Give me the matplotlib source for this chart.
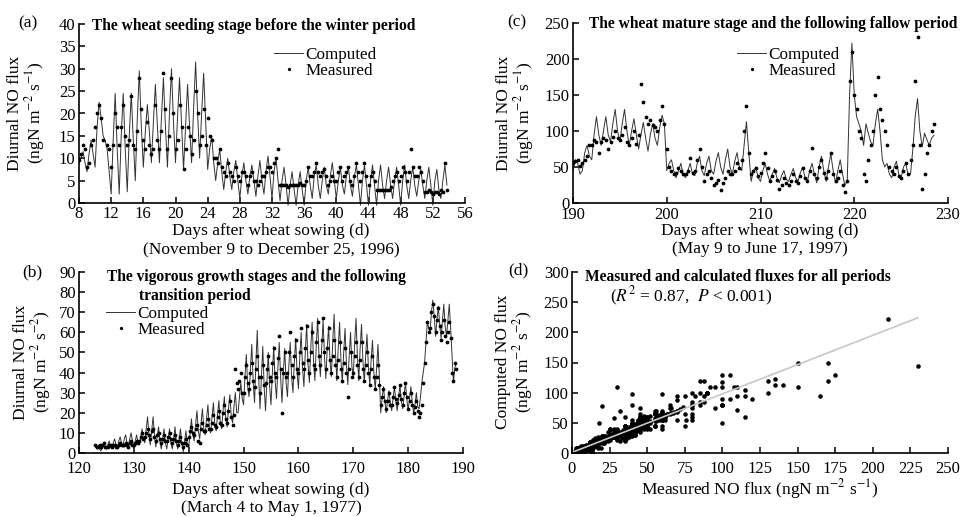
import numpy as np
import matplotlib
matplotlib.use('Agg')
import matplotlib.pyplot as plt

plt.rcParams['font.family'] = ['Liberation Serif', 'DejaVu Serif']
plt.rcParams['mathtext.fontset'] = 'stix'

W, H = 964, 517

# diurnal NO flux, one value every 6 h (rows = one day)
# (a) days 8-53, wheat seeding stage
start_a = 8.0
comp_a = [
    9, 10, 11.5, 9,       7, 11, 14, 11,        8, 17, 22.5, 19,      15, 14, 12, 7,
    2, 14, 24.5, 12,      2, 15, 24.5, 12,      2.5, 15, 24.5, 14,    5, 19, 29.5, 17,
    8, 16, 22, 16,        9, 18, 26.5, 17,      9, 19, 28, 17,        8, 20, 30, 18,
    9, 19, 28, 18,        7.5, 17, 26.5, 17,    9, 21, 31.5, 20,      10, 20, 29, 18,
    7.5, 12, 15, 9,       5, 9, 12, 7,          3, 7, 10, 6,          3, 7, 9.5, 5,
    1, 6, 9, 5,           2, 6, 8.5, 5,         1.5, 6, 9.5, 5,       2, 7, 10.5, 6,
    1, 7, 10, 5,          0.5, 5, 8, 4,         -0.5, 4, 7, 3,        -0.5, 4, 7, 3,
    -0.5, 5, 8, 4,        1, 6, 8.5, 4,         1, 5, 8, 4,           2, 6, 9, 5,
    1, 5, 8, 4,           2, 6, 8, 4,           1.5, 6, 8.5, 4,       -0.5, 5, 8.5, 4,
    -0.5, 5, 8.5, 4,      -0.5, 5, 8.5, 4,      1, 5, 8, 4,           1, 5, 8, 4,
    -0.5, 5, 8.5, 4,      1, 5, 8, 4,           1.5, 5, 7.5, 4,       1, 5, 8, 4,
    -0.5, 5, 7.5, 3,      1, 5, 8.5, 4,
]
meas_a = [
    9.5, 11, 13, 12,      8, 9, 13, 14,         17, 20, 22, 19,       14, np.nan, 13, 12,
    8, 13, 20, 17,        13, 17, 22, 15,       13, 14, 24, 13,       12, 16, 28, 21,
    14, 12, 18, 13,       11, 12, 22, 14,       12, 16, 29, 21,       12, 15, 28, 20,
    12, 14, 22, 17,       7.5, 12, 17, 15,      11, 14, 25, 20,       13, 15, 21, 13,
    19, 15, 14, 10,       10, 9, 12, 8,         7, 6, 9, 7,           6, 5, 8, 6,
    5, 7, 7, 6,           4, 6, 7, 5,           5, 4, 5, 6,           6, 7, 8, 8,
    7, 9, 10, 12,         4, 4, 4, 4,           3.5, 4, 4, 4,         4, 4, 4.5, 4,
    4, 5, 8, 6,           6, 7, 9, 7,           6, 7, 7.5, 6,         4, 5, 6, 5,
    5, 7, 8, 5,           6, 7, 8, 5,           4, 6, 9, 7,           5, 7, 9, 6,
    4, 6, 7, 5,           3, 3, 3, 3,           3, 3, 3, 3.5,         5, 6, 7, 5,
    6, 8, 7, 5,           7, 12, 8, 6,          6, 8, 7, 5,           2.5, 2.5, 3, 2.5,
    2, 2.5, 2.5, 2,       3, 2.5, 9, 3,
]

# (b) days 123-188, vigorous growth stages
start_b = 123.0
comp_b = [
    3, 2, 4, 2,           1, 3, 5, 3,           2, 4, 6, 3,           2, 5, 7, 4,
    3, 6, 8, 5,           3, 7, 9, 5,           4, 7, 10, 6,          3, 6, 9, 5,
    4, 8, 12, 7,          5, 12, 18, 9,         4, 11, 18, 9,         3, 8, 13, 6,
    2, 7, 12, 5,          2, 7, 12, 5,          2, 7, 13, 5,          2, 7, 12, 5,
    0.5, 6, 11, 4,        3, 10, 17, 9,         6, 14, 21, 11,        7, 15, 22, 12,
    9, 17, 24, 13,        10, 18, 25, 14,       11, 19, 26, 15,       12, 21, 28, 17,
    13, 22, 29, 18,       15, 23, 30, 20,       20, 28, 35, 27,       24, 38, 49, 33,
    28, 42, 54, 35,       25, 45, 61, 38,       22, 38, 53, 33,       21, 36, 50, 33,
    24, 40, 53, 36,       27, 42, 55, 38,       25, 40, 52, 35,       28, 43, 55, 38,
    30, 45, 57, 40,       32, 48, 60, 42,       33, 50, 64, 44,       35, 52, 65, 46,
    36, 53, 67, 48,       38, 53, 66, 48,       37, 52, 63, 46,       38, 55, 69, 50,
    36, 52, 65, 46,       35, 50, 62, 44,       34, 48, 60, 43,       38, 55, 67, 48,
    36, 52, 64, 46,       35, 48, 59, 43,       34, 46, 56, 40,       32, 42, 54, 38,
    20, 27, 33, 26,       20, 26, 31, 25,       21, 27, 33, 26,       21, 27, 34, 26,
    22, 28, 35, 27,       21, 27, 33, 25,       20, 24, 30, 23,       22, 28, 35, 40,
    45, 55, 65, 62,       60, 70, 76, 68,       58, 66, 73, 64,       57, 66, 74, 63,
    58, 66, 74, 62,       48, 35, 42, 45,
]
meas_b = [
    4, 3, 3, 4,           3, 4, 5, 3,           3, 3, 4, 4,           3, 4, 4, 3,
    3, 4, 5, 4,           4, 4, 5, 4,           3, 5, 6, 4,           4, 5, 6, 5,
    6, 8, 10, 7,          8, 10, 12, 9,         7, 11, 12, 8,         6, 9, 10, 7,
    5, 7, 9, 6,           6, 8, 10, 7,          5, 7, 9, 6,           4, 6, 8, 5,
    3, 5, 7, 4,           8, 11, 13, 10,        9, 12, 14, 6,         5, 12, 15, 11,
    11, 14, 17, 12,       12, 15, 19, 14,       13, 18, 21, 15,       14, 20, 24, 17,
    15, 21, 26, 18,       14, 19, 42, 35,       32, 36, 40, 30,       30, 38, 44, 35,
    32, 40, 45, 36,       33, 42, 48, 38,       30, 38, 44, 34,       35, 42, 48, 38,
    36, 45, 52, 40,       38, 47, 58, 42,       20, 40, 50, 38,       40, 50, 60, 44,
    38, 48, 56, 42,       40, 50, 62, 45,       42, 52, 63, 46,       40, 50, 60, 44,
    42, 55, 65, 48,       44, 56, 67, 50,       42, 52, 62, 46,       40, 48, 56, 44,
    38, 46, 55, 42,       36, 45, 52, 40,       28, 42, 50, 38,       40, 48, 55, 44,
    38, 46, 55, 42,       36, 44, 50, 40,       34, 42, 48, 38,       32, 38, 44, 34,
    24, 28, 32, 26,       22, 26, 30, 24,       24, 28, 33, 27,       25, 29, 34, 27,
    24, 30, 35, 28,       22, 26, 30, 24,       20, 23, 26, 21,       18, 20, 24, 35,
    45, 55, 65, 60,       62, 70, 74, 68,       60, 66, 72, 63,       56, 60, 66, 58,
    55, 60, 65, 57,       40, 36, 45, 42,
]

# (c) days 190-228, mature stage and fallow
start_c = 190.0
comp_c = [
    45, 60, 55, 40,       45, 70, 80, 65,       60, 95, 120, 95,      80, 100, 120, 95,
    85, 110, 130, 100,    85, 110, 130, 100,    80, 100, 117, 95,     75, 95, 112, 90,
    72, 95, 110, 90,      80, 105, 122, 110,    45, 55, 60, 45,       35, 45, 55, 40,
    35, 45, 55, 40,       38, 55, 65, 45,       38, 55, 65, 45,       40, 58, 70, 50,
    40, 60, 75, 50,       40, 58, 70, 50,       45, 80, 113, 70,      30, 45, 50, 35,
    30, 45, 55, 40,       30, 40, 48, 35,       28, 38, 45, 33,       30, 40, 48, 35,
    30, 42, 50, 35,       30, 45, 55, 40,       28, 50, 65, 45,       30, 50, 68, 45,
    28, 45, 60, 40,       25, 30, 150, 222,     150, 120, 110, 100,   80, 110, 97, 85,
    80, 110, 130, 100,    60, 50, 55, 40,       35, 50, 58, 40,       35, 50, 55, 38,
    40, 75, 120, 145,     100, 78, 97, 88,      80, 90, 94,
]
meas_c = [
    55, 58, 60, 52,       55, 60, 65, 80,       80, 88, 85, 70,       85, 90, 88, 75,
    85, 92, 100, 90,      88, 95, 105, 85,      80, 90, 100, 82,      95, 165, 140, 120,
    110, 115, 108, 105,   100, 115, 135, 110,   75, 50, 45, 40,       42, 48, 45, 40,
    40, 45, 62, 42,       45, 60, 75, 50,       30, 40, 45, 35,       25, 28, 32, 18,
    28, 35, 45, 40,       40, 45, 55, 48,       60, 100, 135, 70,     40, 45, 48, 38,
    42, 55, 70, 48,       30, 38, 45, 32,       20, 25, 35, 28,       25, 30, 40, 30,
    28, 38, 48, 35,       30, 45, 76, 40,       35, 50, 60, 42,       35, 45, 70, 40,
    30, 35, 45, 25,       15, 30, 170, 210,     150, 130, 100, 90,    40, 30, 60, 80,
    100, 150, 175, 130,   115, 100, 80, 50,     45, 40, 50, 38,       35, 45, 55, 40,
    60, 80, 170, 230,     80, 20, 40, 70,       80, 100, 110,
]

# (d) regression of computed on measured flux
fit_slope = 0.97
fit_intercept = 1.0
fit_xmax = 230


def rect(x0, y0, x1, y1):
    return [x0 / W, 1 - y1 / H, (x1 - x0) / W, (y1 - y0) / H]


def ftext(x, y, s, **kw):
    kw.setdefault('va', 'center')
    kw.setdefault('fontsize', 12.5)
    fig.text(x / W, 1 - y / H, s, **kw)


def style(ax, xpad):
    ax.spines['top'].set_visible(False)
    ax.spines['right'].set_visible(False)
    ax.spines['left'].set_linewidth(1.2)
    ax.spines['bottom'].set_linewidth(1.2)
    ax.tick_params(direction='in', length=4, width=1.1, labelsize=12, pad=2.5)
    ax.tick_params(axis='x', pad=xpad)


def series(ax, start, comp, meas, clip=True):
    t = start + 0.25 * np.arange(len(comp))
    ax.plot(t, comp, color='#333333', lw=0.7, clip_on=clip, label='Computed')
    t = start + 0.25 * np.arange(len(meas))
    ax.plot(t, meas, ls='none', marker='.', ms=3.4, color='black', label='Measured')


def legend(ax, x, y):
    ax.legend(loc='upper left', bbox_to_anchor=(x / W, 1 - y / H),
              bbox_transform=fig.transFigure, frameon=False, fontsize=12.3,
              handlelength=1.7, handletextpad=0.15, labelspacing=0.0,
              borderpad=0, borderaxespad=0, numpoints=1, markerscale=0.8)


fig = plt.figure(figsize=(W / 100, H / 100), dpi=100)

ax_a = fig.add_axes(rect(79, 24, 465, 203))
ax_b = fig.add_axes(rect(79, 272, 463, 453))
ax_c = fig.add_axes(rect(573, 23, 948, 203))
ax_d = fig.add_axes(rect(572, 272, 948, 453))

# (a)
style(ax_a, 2.5)
series(ax_a, start_a, comp_a, meas_a, clip=False)
ax_a.set_xlim(8, 56)
ax_a.set_ylim(0, 40)
ax_a.set_xticks(np.arange(8, 57, 4))
ax_a.set_yticks(np.arange(0, 41, 5))
legend(ax_a, 274, 47)

# (b)
style(ax_b, 5.5)
series(ax_b, start_b, comp_b, meas_b)
ax_b.set_xlim(120, 190)
ax_b.set_ylim(0, 90)
ax_b.set_xticks(np.arange(120, 191, 10))
ax_b.set_yticks(np.arange(0, 91, 10))
legend(ax_b, 106, 306)

# (c)
style(ax_c, 3)
series(ax_c, start_c, comp_c, meas_c)
ax_c.set_xlim(190, 230)
ax_c.set_ylim(0, 250)
ax_c.set_xticks(np.arange(190, 231, 10))
ax_c.set_yticks(np.arange(0, 251, 50))
legend(ax_c, 737, 47)

# (d) all periods pooled
style(ax_d, 5.5)
mx = np.concatenate([meas_a, meas_b, meas_c])
cy = np.concatenate([comp_a, comp_b, comp_c])
ok = ~np.isnan(mx)
ax_d.plot(mx[ok], cy[ok], ls='none', marker='.', ms=4.5, color='black')
fx = np.array([0, fit_xmax])
ax_d.plot(fx, fit_slope * fx + fit_intercept, color='#c8c8c8', lw=1.2)
ax_d.set_xlim(0, 250)
ax_d.set_ylim(0, 300)
ax_d.set_xticks(np.arange(0, 251, 25))
ax_d.set_yticks(np.arange(0, 301, 50))

# panel letters, titles and axis labels
ftext(18, 23, '(a)')
ftext(22, 272, '(b)')
ftext(507, 22, '(c)')
ftext(508, 270, '(d)')

tkw = dict(fontweight='bold', fontsize=11.2)
ftext(92, 26, 'The wheat seeding stage before the winter period', **tkw)
ftext(107, 277, 'The vigorous growth stages and the following', **tkw)
ftext(139, 296, 'transition period', **tkw)
ftext(589, 24, 'The wheat mature stage and the following fallow period', **tkw)
ftext(585, 277, 'Measured and calculated fluxes for all periods', **tkw)
ftext(610, 296, r'($R^2$ = 0.87,  $P$ < 0.001)')

ylab = dict(rotation=90, ha='center', linespacing=1.0, multialignment='center')
ftext(27, 113, 'Diurnal NO flux\n(ngN m$^{-2}$ s$^{-1}$)', **ylab)
ftext(33, 362, 'Diurnal NO flux\n(ngN m$^{-2}$ s$^{-2}$)', **ylab)
ftext(516, 113, 'Diurnal NO flux\n(ngN m$^{-2}$ s$^{-1}$)', **ylab)
ftext(515, 362, 'Computed NO flux\n(ngN m$^{-2}$ s$^{-2}$)', **ylab)

ftext(271, 231, 'Days after wheat sowing (d)', ha='center')
ftext(271, 249, '(November 9 to December 25, 1996)', ha='center')
ftext(271, 490, 'Days after wheat sowing (d)', ha='center')
ftext(271, 508, '(March 4 to May 1, 1977)', ha='center')
ftext(760, 231, 'Days after wheat sowing (d)', ha='center')
ftext(760, 249, '(May 9 to June 17, 1997)', ha='center')
ftext(760, 489, 'Measured NO flux (ngN m$^{-2}$ s$^{-1}$)', ha='center')

fig.savefig('out.png', dpi=100)
